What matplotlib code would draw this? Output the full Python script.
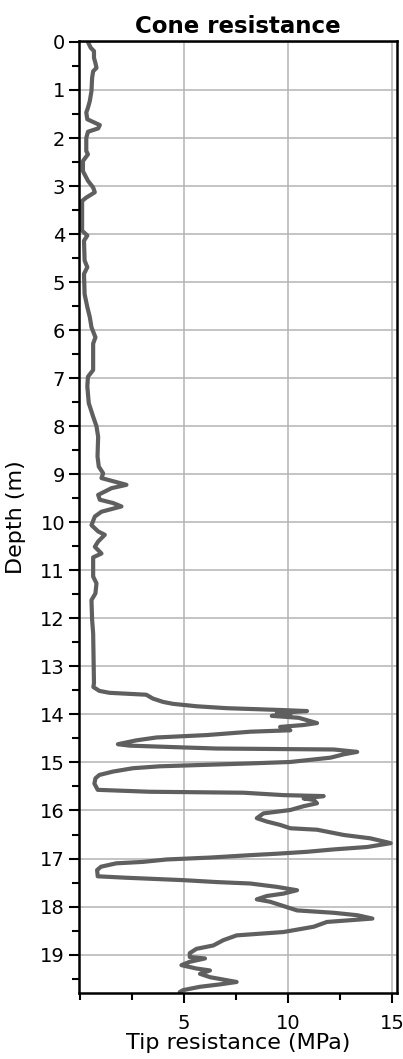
# CPT cone resistance profile
import numpy as np
import matplotlib.pyplot as plt
from matplotlib.ticker import MultipleLocator

depth = [0.00, 0.12, 0.19, 0.33, 0.44, 0.54, 0.61, 0.75, 1.02, 1.23, 1.37, 1.47,
         1.61, 1.73, 1.80, 1.87, 2.00, 2.27, 2.34, 2.48, 2.69, 2.89, 3.03, 3.13,
         3.24, 3.31, 3.93, 4.03, 4.14, 4.55, 4.69, 4.83, 5.25, 5.52, 5.73, 5.94,
         6.15, 6.28, 6.70, 6.83, 6.97, 7.17, 7.52, 7.80, 8.00, 8.22, 8.63, 8.84,
         8.98, 9.08, 9.22, 9.29, 9.43, 9.53, 9.60, 9.67, 9.78, 9.88, 10.06, 10.19,
         10.26, 10.40, 10.51, 10.65, 10.73, 11.13, 11.27, 11.48, 11.62, 12.03, 12.31, 13.35,
         13.43, 13.51, 13.55, 13.59, 13.67, 13.74, 13.78, 13.83, 13.87, 13.91, 13.93, 13.97,
         14.00, 14.03, 14.07, 14.12, 14.18, 14.22, 14.26, 14.33, 14.36, 14.43, 14.48, 14.54,
         14.62, 14.65, 14.71, 14.73, 14.78, 14.83, 14.90, 14.99, 15.02, 15.08, 15.12, 15.19,
         15.26, 15.33, 15.44, 15.57, 15.61, 15.63, 15.68, 15.70, 15.75, 15.78, 15.85, 15.91,
         15.99, 16.06, 16.16, 16.23, 16.30, 16.37, 16.40, 16.51, 16.58, 16.68, 16.76, 16.81,
         16.86, 16.90, 16.93, 16.98, 17.02, 17.07, 17.10, 17.17, 17.24, 17.37, 17.40, 17.45,
         17.49, 17.52, 17.59, 17.66, 17.73, 17.78, 17.85, 17.90, 17.99, 18.08, 18.13, 18.18,
         18.25, 18.32, 18.42, 18.53, 18.60, 18.70, 18.81, 18.88, 18.97, 19.05, 19.08, 19.15,
         19.22, 19.29, 19.33, 19.40, 19.47, 19.57, 19.62, 19.67, 19.74, 19.78]

qc = [0.38, 0.51, 0.67, 0.67, 0.74, 0.79, 0.63, 0.58, 0.55, 0.47, 0.38, 0.30,
      0.35, 0.95, 0.87, 0.38, 0.30, 0.30, 0.38, 0.14, 0.14, 0.38, 0.63, 0.71,
      0.30, 0.10, 0.10, 0.35, 0.19, 0.22, 0.35, 0.19, 0.22, 0.35, 0.47, 0.55,
      0.74, 0.63, 0.63, 0.63, 0.38, 0.35, 0.42, 0.63, 0.79, 0.87, 0.84, 0.90,
      1.11, 1.03, 2.23, 1.51, 0.87, 0.95, 1.59, 1.99, 1.03, 0.71, 0.55, 0.87,
      1.19, 0.87, 0.71, 1.03, 0.63, 0.63, 0.79, 0.74, 0.55, 0.58, 0.63, 0.67,
      0.64, 0.93, 1.41, 3.18, 3.50, 3.99, 4.47, 5.59, 7.04, 9.77, 10.90, 9.45,
      10.10, 9.21, 10.50, 10.90, 11.38, 10.74, 9.61, 10.10, 8.17, 6.08, 3.67, 2.70,
      1.82, 2.38, 6.56, 12.19, 13.31, 12.67, 12.03, 10.10, 8.17, 3.83, 2.54, 1.58,
      0.93, 0.74, 0.69, 0.85, 3.34, 7.85, 9.77, 11.70, 10.74, 11.22, 11.38, 10.74,
      10.10, 8.81, 8.49, 8.97, 9.61, 10.10, 11.38, 12.67, 13.95, 14.92, 13.79, 12.19,
      10.90, 9.45, 8.17, 6.24, 4.15, 3.02, 1.74, 1.01, 0.82, 0.85, 2.22, 4.95,
      6.56, 8.17, 9.45, 10.42, 9.77, 8.97, 8.49, 9.13, 9.77, 10.42, 12.19, 13.31,
      14.04, 11.86, 11.22, 9.77, 7.52, 6.88, 6.40, 5.59, 5.27, 5.27, 6.00, 5.27,
      4.87, 5.59, 6.24, 5.76, 6.24, 7.52, 6.72, 5.76, 4.95, 4.79]

fig = plt.figure(figsize=(4.03, 10.59), dpi=100)
ax = fig.add_axes([0.196, 0.0623, 0.789, 0.899])

ax.plot(qc, depth, color='#5f5f5f', linewidth=3.0, solid_capstyle='round')

ax.set_xlim(-0.05, 15.22)
ax.set_ylim(19.8, -0.02)
ax.set_xticks([5, 10, 15])
ax.xaxis.set_minor_locator(MultipleLocator(2.5))
ax.set_yticks(np.arange(0, 20, 1))
ax.yaxis.set_minor_locator(MultipleLocator(0.5))

ax.grid(True, which='major', color='#b4b4b4', linewidth=1.1)
ax.set_axisbelow(True)
for s in ax.spines.values():
    s.set_linewidth(1.8)
ax.tick_params(which='major', length=7, width=1.5, labelsize=14, direction='out', pad=3)
ax.tick_params(which='minor', length=5, width=1.5, direction='out')
ax.tick_params(axis='x', which='major', pad=8)

ax.set_title('Cone resistance', fontsize=16.5, fontweight='bold', pad=6)
ax.set_xlabel('Tip resistance (MPa)', fontsize=16, labelpad=0)
ax.set_ylabel('Depth (m)', fontsize=16, labelpad=10)

fig.savefig('out.png', dpi=100)
